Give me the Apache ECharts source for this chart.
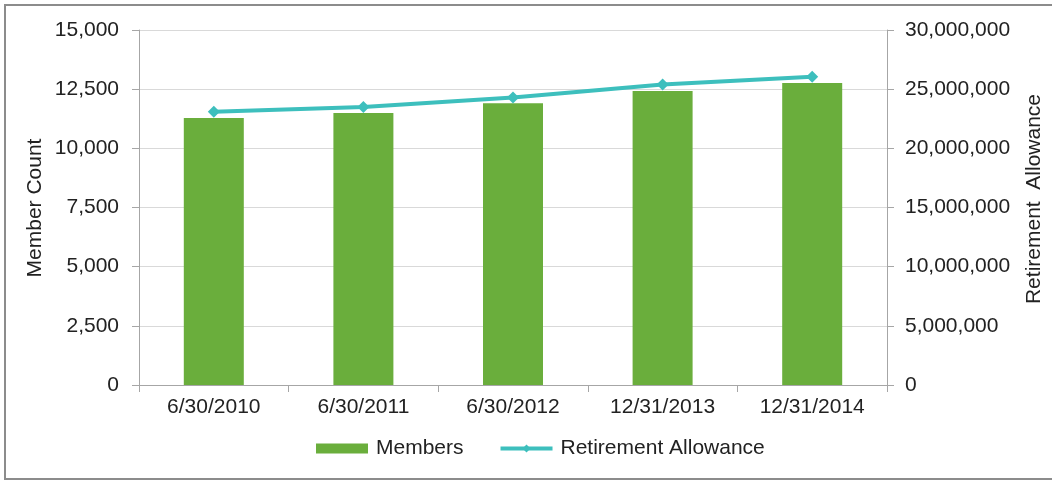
<!DOCTYPE html>
<html>
<head>
<meta charset="utf-8">
<script src="https://cdn.jsdelivr.net/npm/echarts@6/dist/echarts.min.js"></script>
<style>
  html, body { margin: 0; padding: 0; background: #fff; }
  #main { width: 1052px; height: 483px; }
</style>
</head>
<body>
<div id="main"></div>
<script>
  // data
  var dates = ['6/30/2010', '6/30/2011', '6/30/2012', '12/31/2013', '12/31/2014'];
  var members = [11280, 11490, 11900, 12420, 12760];
  var allowance = [23100000, 23500000, 24300000, 25400000, 26050000];

  var font = 'Liberation Sans, Arial, sans-serif';
  var fs = 21;
  var chart = echarts.init(document.getElementById('main'));

  function fmt(v) { return v.toLocaleString('en-US'); }

  chart.setOption({
    animation: false,
    textStyle: { fontFamily: font },
    graphic: [{
      type: 'rect',
      shape: { x: 5, y: 5, width: 1060, height: 474 },
      style: { fill: 'none', stroke: '#8c8c8c', lineWidth: 2 },
      silent: true
    }, {
      // axis titles
      type: 'text',
      x: 35, y: 208, rotation: Math.PI / 2,
      style: { text: 'Member Count', fontSize: fs, fontFamily: font, fill: '#222',
               align: 'center', verticalAlign: 'middle' }
    }, {
      type: 'text',
      x: 1034, y: 199, rotation: Math.PI / 2,
      style: { text: 'Retirement  Allowance', fontSize: fs, fontFamily: font, fill: '#222',
               align: 'center', verticalAlign: 'middle' }
    }],
    grid: { left: 139, right: 165, top: 30, bottom: 98 },
    legend: {
      top: 433,
      left: 311,
      itemWidth: 52,
      itemHeight: 10,
      itemGap: 35,
      textStyle: { fontSize: fs, color: '#222', fontFamily: font, padding: [0, 0, 0, 3] },
      data: [
        { name: 'Members', icon: 'rect' },
        { name: 'Retirement Allowance', lineStyle: { width: 4 } }
      ]
    },
    xAxis: {
      type: 'category',
      data: dates,
      axisLine: { lineStyle: { color: '#a6a6a6', width: 1 } },
      axisTick: { show: true, length: 7, lineStyle: { color: '#a6a6a6' } },
      axisLabel: { fontSize: fs, color: '#222', margin: 12 }
    },
    yAxis: [{
      type: 'value',
      min: 0, max: 15000, interval: 2500,
      axisLine: { show: true, lineStyle: { color: '#a6a6a6' } },
      axisTick: { show: true, length: 7, lineStyle: { color: '#a6a6a6' } },
      splitLine: { lineStyle: { color: '#d9d9d9' } },
      axisLabel: { fontSize: fs, color: '#222', margin: 20, formatter: fmt }
    }, {
      type: 'value',
      min: 0, max: 30000000, interval: 5000000,
      axisLine: { show: true, lineStyle: { color: '#a6a6a6' } },
      axisTick: { show: true, length: 7, lineStyle: { color: '#a6a6a6' } },
      splitLine: { show: false },
      axisLabel: { fontSize: fs, color: '#222', margin: 18, formatter: fmt }
    }],
    series: [{
      name: 'Members',
      type: 'bar',
      data: members,
      barWidth: 60,
      itemStyle: { color: '#6aae3c' }
    }, {
      name: 'Retirement Allowance',
      type: 'line',
      yAxisIndex: 1,
      data: allowance,
      symbol: 'diamond',
      symbolSize: 12,
      lineStyle: { color: '#3dbfbd', width: 4 },
      itemStyle: { color: '#3dbfbd' }
    }]
  });
</script>
</body>
</html>
